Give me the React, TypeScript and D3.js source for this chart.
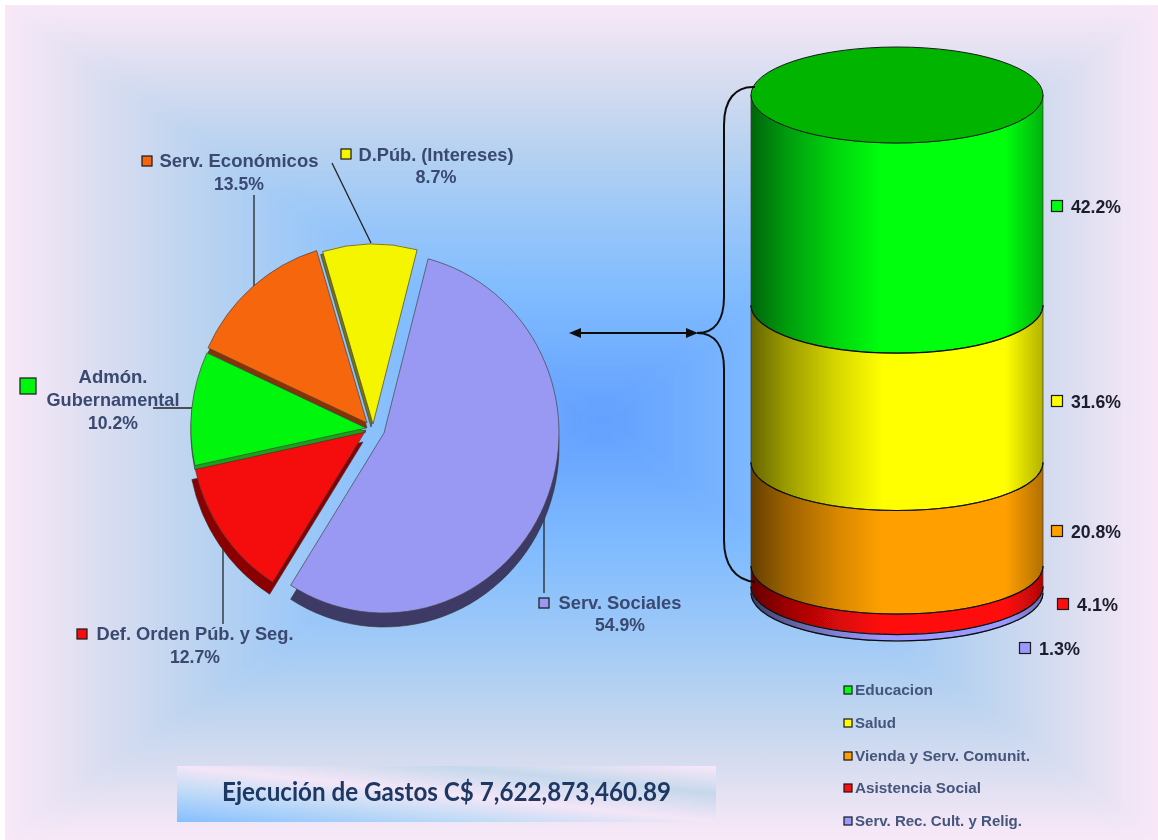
import * as d3 from "d3"

const pieNames = ["Serv. Sociales", "Def. Orden Púb. y Seg.", "Admón. Gubernamental", "Serv. Económicos", "D.Púb. (Intereses)"]
const pieValues = [54.9, 12.7, 10.2, 13.5, 8.7]
const pieColors = ["#9999f3", "#f50808", "#00f708", "#f66608", "#f5f505"]
const pieSideColors = ["#3c3a66", "#8a0000", "#1fa01f", "#8a3300", "#77770a"]
const pieOffsets = [[14, 3], [-4, 0], [-4, -2], [-3, -7], [3, -6]]
const pieDepths = [14, 12, 4, 5, 3]
const pieSideShift = [0, -3, 0, 0, -2]

const stackNames = ["Educacion", "Salud", "Vienda y Serv. Comunit.", "Asistencia Social", "Serv. Rec. Cult. y Relig."]
const stackValues = [42.2, 31.6, 20.8, 4.1, 1.3]
const stackColors = ["#00ff10", "#ffff00", "#ffa000", "#ff0808", "#9999ff"]
const legendWidths = [78, 41, 175, 126, 167]

const W = 1158
const H = 840
const labelColor = "#3a4a70"
const labelFont = "'Liberation Sans', Arial, sans-serif"

const pctWidth = (v: number) => (v >= 10 ? 50 : 41)

function Swatch({ x, y, size, fill }: { x: number; y: number; size: number; fill: string }) {
  return <rect x={x - size / 2} y={y - size / 2} width={size} height={size} fill={fill} stroke="#1a1a1a" strokeWidth={1.2} />
}

function Label({ x, y, text, width, color = labelColor, size = 19, anchor = "middle" }: any) {
  return (
    <text x={x} y={y} dy="0.3em" textAnchor={anchor} fontFamily={labelFont} fontWeight={700} fontSize={size} fill={color}
      textLength={width} lengthAdjust="spacingAndGlyphs">
      {text}
    </text>
  )
}

function Background() {
  // rectangular path gradient: four wedges running from the centre to each edge
  const cx = 600
  const cy = 420
  const l = 5, t = 5, r = W, b = H
  const stops = [
    [0, "#629fff"], [0.3, "#7fbbff"], [0.5, "#9cc8f8"], [0.67, "#bad3f0"], [0.8, "#d3dbf0"], [0.9, "#e6e2f3"], [1, "#f9e8f8"],
  ] as [number, string][]
  const wedges = [
    { id: "bgT", g: [cx, cy, cx, t], pts: [[l - 40, t - 40], [r + 40, t - 40], [cx, cy]] },
    { id: "bgB", g: [cx, cy, cx, b], pts: [[l - 40, b + 40], [r + 40, b + 40], [cx, cy]] },
    { id: "bgL", g: [cx, cy, l, cy], pts: [[l - 40, t - 40], [l - 40, b + 40], [cx, cy]] },
    { id: "bgR", g: [cx, cy, r, cy], pts: [[r + 40, t - 40], [r + 40, b + 40], [cx, cy]] },
  ]
  return (
    <g clipPath="url(#bgClip)">
      <defs>
        <clipPath id="bgClip"><rect x={l} y={t} width={r - l} height={b - t} /></clipPath>
        <filter id="bgBlur" x="-5%" y="-5%" width="110%" height="110%"><feGaussianBlur stdDeviation="9" /></filter>
        {wedges.map((w) => (
          <linearGradient key={w.id} id={w.id} gradientUnits="userSpaceOnUse" x1={w.g[0]} y1={w.g[1]} x2={w.g[2]} y2={w.g[3]}>
            {stops.map((s) => <stop key={s[0]} offset={s[0]} stopColor={s[1]} />)}
          </linearGradient>
        ))}
      </defs>
      <g filter="url(#bgBlur)">
        {wedges.map((w) => (
          <polygon key={w.id} points={w.pts.join(" ")} fill={`url(#${w.id})`} stroke={`url(#${w.id})`} strokeWidth={0.6} />
        ))}
      </g>
    </g>
  )
}

function Pie3D() {
  const cx = 370
  const cy = 430
  const sx = 175 / 180
  const arcs = d3.pie<number>().sort(null).startAngle((14.6 * Math.PI) / 180).endAngle((374.6 * Math.PI) / 180)(pieValues)
  const arc = d3.arc<d3.PieArcDatum<number>>().innerRadius(0).outerRadius(180)
  return (
    <g>
      {arcs.map((d, i) => {
        const [ox, oy] = pieOffsets[i]
        const depth = pieDepths[i]
        return (
          <g key={pieNames[i]}>
            <path d={arc(d) as string} fill={pieSideColors[i]} stroke="#333" strokeWidth={0.6} vectorEffect="non-scaling-stroke"
              transform={`translate(${cx + ox + pieSideShift[i]},${cy + oy + depth}) scale(${sx},1)`} />
            <path d={arc(d) as string} fill={pieColors[i]} stroke="#444" strokeWidth={0.7} vectorEffect="non-scaling-stroke"
              transform={`translate(${cx + ox},${cy + oy}) scale(${sx},1)`} />
          </g>
        )
      })}
    </g>
  )
}

function Cylinder() {
  const left = 751
  const right = 1043
  const rx = (right - left) / 2
  const ry = 48
  const y = d3.scaleLinear().domain([0, d3.sum(stackValues)]).range([95, 593])
  let acc = 0
  const segs = stackValues.map((v, i) => {
    const s = { y0: y(acc), y1: y(acc + v), color: stackColors[i], id: `cyl${i}` }
    acc += v
    return s
  })
  return (
    <g>
      <defs>
        {segs.map((s) => {
          const c = d3.color(s.color) as d3.RGBColor
          return (
            <linearGradient key={s.id} id={s.id} x1="0" x2="1" y1="0" y2="0">
              <stop offset="0" stopColor={c.darker(2.6).formatHex()} />
              <stop offset="0.12" stopColor={c.darker(1.4).formatHex()} />
              <stop offset="0.3" stopColor={c.darker(0.45).formatHex()} />
              <stop offset="0.45" stopColor={s.color} />
              <stop offset="0.87" stopColor={s.color} />
              <stop offset="1" stopColor={c.darker(1).formatHex()} />
            </linearGradient>
          )
        })}
      </defs>
      {segs.map((s) => (
        <path key={s.id} fill={`url(#${s.id})`} stroke="#333" strokeWidth={0.7}
          d={`M${left},${s.y0} A${rx},${ry} 0 0 0 ${right},${s.y0} L${right},${s.y1} A${rx},${ry} 0 0 1 ${left},${s.y1} Z`} />
      ))}
      <ellipse cx={(left + right) / 2} cy={y(0)} rx={rx} ry={ry} fill="#00b400" stroke="#1a1a1a" strokeWidth={1} />
      {segs.map((s) => (
        <path key={s.id + "e"} fill="none" stroke="#111" strokeWidth={1.2} d={`M${left},${s.y1} A${rx},${ry} 0 0 0 ${right},${s.y1}`} />
      ))}
    </g>
  )
}

function Brace() {
  return (
    <g fill="none" stroke="#111" strokeWidth={2}>
      <path d="M755,87 C735,86 724,100 724,125 L724,297 C724,320 715,333 697,333 C715,333 724,346 724,369 L724,540 C724,565 735,580 755,582" />
      <line x1={578} y1={333} x2={690} y2={333} />
      <polygon points="569,333 581,328 581,338" fill="#111" stroke="none" />
      <polygon points="698,333 686,328 686,338" fill="#111" stroke="none" />
    </g>
  )
}

export default function App() {
  const legendY = [690, 723, 756, 788, 821]
  const stackLabelPos = [[1057, 206], [1057, 401], [1057, 531], [1063, 604], [1025, 648]]
  return (
    <svg width={W} height={H} style={{ position: "absolute", left: 0, top: 0 }}>
      <defs>
        <filter id="soft" filterUnits="userSpaceOnUse" x="0" y="0" width={W} height={H}><feGaussianBlur stdDeviation="0.45" /></filter>
        <linearGradient id="titleBg" x1="0" y1="1" x2="1" y2="0">
          <stop offset="0" stopColor="#85bfff" />
          <stop offset="0.3" stopColor="#c4dcf6" />
          <stop offset="0.5" stopColor="#f3e6f7" />
          <stop offset="0.75" stopColor="#c6d8ec" />
          <stop offset="1" stopColor="#f8e8f8" />
        </linearGradient>
      </defs>
      <rect width={W} height={H} fill="#fff" />
      <Background />

      <g filter="url(#soft)">
        <g stroke="#222" strokeWidth={1.3}>
          <line x1={254} y1={195} x2={254} y2={290} />
          <line x1={332} y1={163} x2={371} y2={243} />
          <line x1={153} y1={408} x2={195} y2={408} />
          <line x1={223} y1={545} x2={223} y2={624} />
          <line x1={544} y1={515} x2={544} y2={593} />
        </g>
        <Pie3D />

        <Swatch x={147} y={161} size={10} fill={pieColors[3]} />
        <Label x={239} y={161} text={pieNames[3]} width={159} />
        <Label x={239} y={184} text={`${pieValues[3]}%`} width={pctWidth(pieValues[3])} />
        <Swatch x={346} y={154} size={10} fill={pieColors[4]} />
        <Label x={436} y={155} text={pieNames[4]} width={155} />
        <Label x={436} y={177} text={`${pieValues[4]}%`} width={pctWidth(pieValues[4])} />
        <Swatch x={28} y={386} size={16} fill={pieColors[2]} />
        <Label x={113} y={377} text="Admón." width={69} />
        <Label x={113} y={400} text="Gubernamental" width={133} />
        <Label x={113} y={423} text={`${pieValues[2]}%`} width={pctWidth(pieValues[2])} />
        <Swatch x={82} y={634} size={10} fill={pieColors[1]} />
        <Label x={195} y={634} text={pieNames[1]} width={197} />
        <Label x={195} y={657} text={`${pieValues[1]}%`} width={pctWidth(pieValues[1])} />
        <Swatch x={544} y={603} size={10} fill={pieColors[0]} />
        <Label x={620} y={603} text={pieNames[0]} width={123} />
        <Label x={620} y={625} text={`${pieValues[0]}%`} width={pctWidth(pieValues[0])} />

        <Cylinder />
        <Brace />

        {stackValues.map((v, i) => (
          <g key={stackNames[i]}>
            <Swatch x={stackLabelPos[i][0]} y={stackLabelPos[i][1]} size={11} fill={stackColors[i]} />
            <Label x={stackLabelPos[i][0] + 14} y={stackLabelPos[i][1] + 1} text={`${v}%`} anchor="start" color="#1c1c2c" width={pctWidth(v)} />
            <Swatch x={848} y={legendY[i]} size={8} fill={stackColors[i]} />
            <text x={855} y={legendY[i]} dy="0.35em" fontFamily={labelFont} fontWeight={700} fontSize={15} fill="#44557c"
              textLength={legendWidths[i]} lengthAdjust="spacingAndGlyphs">
              {stackNames[i]}
            </text>
          </g>
        ))}

        <rect x={177} y={766} width={539} height={56} fill="url(#titleBg)" />
        <text x={446.5} y={792} dy="0.35em" textAnchor="middle" fontFamily="Lato, sans-serif" fontWeight={700} fontSize={26} fill="#1f3864"
          textLength={449} lengthAdjust="spacingAndGlyphs">
          Ejecución de Gastos C$ 7,622,873,460.89
        </text>
      </g>
    </svg>
  )
}
